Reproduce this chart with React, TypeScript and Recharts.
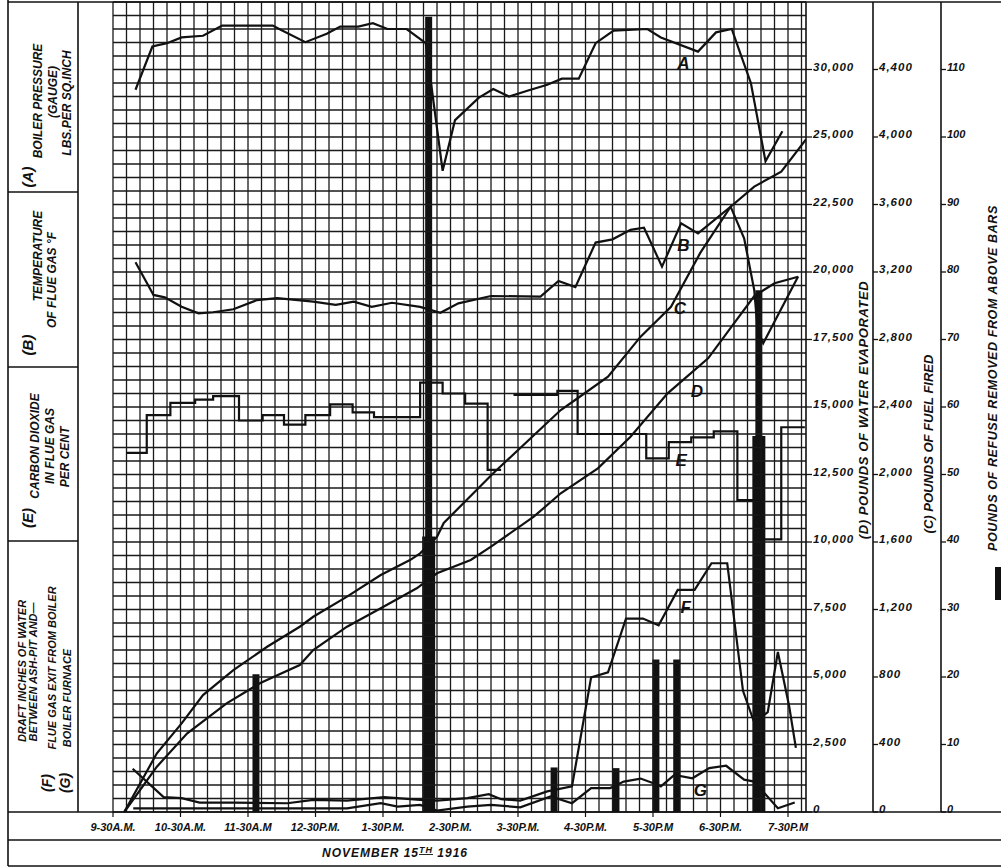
import React from 'react'
import {
  ComposedChart,
  Line,
  Bar,
  XAxis,
  YAxis,
  ReferenceDot,
  ReferenceLine,
} from 'recharts'

// all times are minutes after 9.30 a.m., 15th November 1916
const hourTicks = [0, 60, 120, 180, 240, 300, 360, 420, 480, 540, 600]
const hourLabels = [
  '9-30A.M.', '10-30A.M.', '11-30A.M', '12-30P.M.', '1-30P.M.', '2-30P.M.',
  '3-30P.M.', '4-30P.M.', '5-30P.M', '6-30P.M.', '7-30P.M',
]

// (A) boiler pressure, lbs per sq. inch
const pressureTimes = [20, 35, 48, 61, 80, 97, 142, 149, 171, 190, 202, 218, 231, 244, 261, 278, 293, 304, 325, 338, 352, 369, 386, 399, 414, 429, 445, 475, 487, 520, 536, 550, 558, 567, 580, 595]
const pressureValues = [96, 108.8, 109.8, 111.5, 112, 115, 115, 113.8, 110.1, 112.6, 114.7, 114.7, 115.7, 114, 114, 109.8, 72, 87, 93.6, 96.2, 94, 95.8, 97.5, 99.3, 99.3, 109.8, 113.5, 114, 111.5, 107.3, 113, 114, 106.4, 98, 74.8, 83.7]

// (B) temperature of flue gas, deg F
const tempTimes = [20, 36, 46, 61, 76, 89, 107, 128, 146, 178, 198, 214, 230, 248, 273, 291, 307, 336, 380, 396, 411, 429, 444, 460, 472, 488, 505, 520, 549, 561, 570, 573, 578, 609]
const tempValues = [686, 565, 556, 521, 497, 501, 512, 546, 553, 540, 528, 540, 521, 536, 521, 499, 534, 561, 559, 617, 594, 759, 771, 806, 814, 670, 830, 793, 892, 775, 583, 435, 386, 633]

// (C) pounds of fuel fired, cumulative
const fuelTimes = [10, 39, 61, 80, 107, 137, 166, 178, 208, 238, 264, 273, 288, 294, 338, 398, 413, 440, 469, 496, 522, 549, 570, 594, 616]
const fuelValues = [0, 348, 525, 693, 841, 979, 1098, 1157, 1276, 1404, 1493, 1533, 1631, 1713, 2007, 2382, 2452, 2580, 2817, 2994, 3313, 3587, 3706, 3794, 3986]

// (D) pounds of water evaporated, cumulative
const waterTimes = [10, 39, 66, 101, 131, 166, 178, 208, 238, 270, 288, 318, 336, 374, 398, 431, 460, 493, 529, 552, 570, 588, 609]
const waterValues = [0, 1678, 2915, 4026, 4778, 5444, 6000, 6863, 7544, 8285, 8841, 9333, 9826, 10937, 11804, 12730, 13900, 15507, 16804, 18100, 19111, 19581, 19826]

// (E) carbon dioxide in flue gas, per cent (each value holds until the next time)
const co2Times = [12, 30, 51, 73, 89, 112, 133, 152, 171, 193, 213, 232, 273, 293, 313, 333, 345, 350, 356, 395, 413, 474, 494, 514, 534, 555, 576, 594, 615]
const co2Values = [9.6, 12.4, 13.3, 13.55, 13.8, 12.0, 12.4, 11.7, 12.4, 13.2, 12.6, 12.25, 14.8, 14.0, 13.25, 8.35, 8.35, null, 13.9, 14.2, 11.0, 9.2, 10.4, 10.75, 11.2, 6.1, 3.2, 11.5, 11.5]

// (F) draft, ash-pit to flue gas exit from boiler, inches of water
const draftFTimes = [17.5, 45, 61, 77, 107, 155, 178, 208, 241, 273, 288, 315, 334, 345, 362, 386, 408, 425, 440, 456, 471, 485, 502, 517, 532, 546, 560, 570, 582, 591, 601, 607]
const draftFValues = [0.128, 0.044, 0.041, 0.028, 0.028, 0.026, 0.036, 0.034, 0.044, 0.036, 0.034, 0.041, 0.053, 0.038, 0.034, 0.061, 0.076, 0.399, 0.414, 0.573, 0.573, 0.553, 0.658, 0.658, 0.737, 0.737, 0.359, 0.265, 0.296, 0.474, 0.314, 0.19]

// (G) draft, ash-pit to boiler furnace
const draftGTimes = [18, 149, 208, 238, 253, 273, 288, 315, 336, 362, 389, 408, 425, 442, 454, 469, 484, 487, 499, 515, 530, 545, 561, 570, 591, 606]
const draftGValues = [0.011, 0.011, 0.011, 0.026, 0.016, 0.021, 0.004, 0.016, 0.021, 0.014, 0.046, 0.026, 0.071, 0.071, 0.09, 0.099, 0.081, 0.076, 0.11, 0.1, 0.13, 0.137, 0.096, 0.09, 0.011, 0.028]

// pounds of refuse removed from above bars
const refuseTimes = [127, 280.5, 392, 447, 482.5, 501, 574]
const refuseTall = [20.4, 117.8, 6.6, 6.5, 22.6, 22.6, 77.3]
const refuseWide = [null, 40.8, null, null, null, null, 55.7]

// axis tick values / labels
const pressureTicks = [70, 80, 90, 100, 110]
const pressureLabels = ['70', '80', '90', '100', '110']
const tempTicks = [400, 500, 600, 700, 800, 900]
const tempLabels = ['400', '500', '600', '700', '800', '900']
const co2Ticks = [4, 6, 8, 10, 12, 14]
const co2Labels = ['4·0', '6·0', '8·0', '10·0', '12·0', '14·0']
const draftTicks = [0, 0.1, 0.2, 0.3, 0.4, 0.5, 0.6, 0.7]
const draftLabels = ['·0', '·10', '·20', '·30', '·40', '·50', '·60', '·70']
const waterTicks = [0, 2500, 5000, 7500, 10000, 12500, 15000, 17500, 20000, 22500, 25000, 27500]
const waterLabels = ['0', '2,500', '5,000', '7,500', '10,000', '12,500', '15,000', '17,500', '20,000', '22,500', '25,000', '30,000']
const fuelTicks = [0, 400, 800, 1200, 1600, 2000, 2400, 2800, 3200, 3600, 4000, 4400]
const fuelLabels = ['0', '400', '800', '1,200', '1,600', '2,000', '2,400', '2,800', '3,200', '3,600', '4,000', '4,400']
const refuseTicks = [0, 10, 20, 30, 40, 50, 60, 70, 80, 90, 100, 110]
const refuseLabels = ['0', '10', '20', '30', '40', '50', '60', '70', '80', '90', '100', '110']

// squared paper: 12 minute columns, rows of 500 lbs on the water scale
const gridMinutes = Array.from({ length: 52 }, (_, i) => i * 12)
const gridWater = Array.from({ length: 61 }, (_, i) => i * 500)

const zip = (ts: number[], vs: (number | null)[]) => ts.map((m, i) => ({ m, v: vs[i] }))

const pressureData = zip(pressureTimes, pressureValues)
const tempData = zip(tempTimes, tempValues)
const fuelData = zip(fuelTimes, fuelValues)
const waterData = zip(waterTimes, waterValues)
const co2Data = zip(co2Times, co2Values)
const draftFData = zip(draftFTimes, draftFValues)
const draftGData = zip(draftGTimes, draftGValues)
const refuseData = refuseTimes.map((m, i) => ({ m, tall: refuseTall[i], wide: refuseWide[i] }))

const FONT = "'Liberation Sans', Arial, sans-serif"
const INK = '#111'
const GRID = '#1a1a1a'

const txt = {
  fontFamily: FONT,
  fontStyle: 'italic' as const,
  fontWeight: 700,
  fill: INK,
}

function tickRenderer(labels: string[], side: 'left' | 'right' | 'bottom', size = 11, spacing = 0) {
  return (props: any) => {
    const { x, y, index } = props
    const label = labels[index]
    if (side === 'bottom') {
      return (
        <text x={x} y={y + 12} textAnchor="middle" fontSize={size} {...txt}>
          {label}
        </text>
      )
    }
    return (
      <text
        x={x}
        y={y + 1}
        textAnchor={side === 'left' ? 'end' : 'start'}
        fontSize={size}
        letterSpacing={spacing}
        {...txt}
      >
        {label}
      </text>
    )
  }
}

function letter(ch: string) {
  return (props: any) => {
    const vb = props.viewBox || {}
    const cx = (vb.x ?? 0) + (vb.width ?? 0) / 2
    const cy = (vb.y ?? 0) + (vb.height ?? 0) / 2
    return (
      <text x={cx} y={cy + 6} textAnchor="middle" fontSize={17} {...txt}>
        {ch}
      </text>
    )
  }
}

function Rot({ x, y, size = 12, spacing = 0, children }: { x: number; y: number; size?: number; spacing?: number; children: React.ReactNode }) {
  return (
    <text
      transform={`translate(${x},${y}) rotate(-90)`}
      textAnchor="middle"
      dominantBaseline="central"
      fontSize={size}
      letterSpacing={spacing}
      {...txt}
    >
      {children}
    </text>
  )
}

const lineProps = {
  xAxisId: 'a_time',
  dataKey: 'v',
  stroke: INK,
  strokeWidth: 2.2,
  dot: false,
  isAnimationActive: false,
  type: 'linear' as const,
}

const leftAxis = {
  orientation: 'left' as const,
  width: 0,
  interval: 0,
  axisLine: false,
  tickSize: 8,
  tickMargin: 2,
  tickLine: { stroke: INK, strokeWidth: 1.3 },
}

const rightAxis = {
  orientation: 'right' as const,
  interval: 0,
  axisLine: { stroke: INK, strokeWidth: 1.6 },
  tickSize: 5,
  tickMargin: 1,
  tickLine: { stroke: INK, strokeWidth: 1.3 },
}

export default function App() {
  return (
    <div style={{ position: 'relative', width: 1001, height: 868, background: '#fff' }}>
      <style>{'body{margin:0;background:#fff}'}</style>
      <ComposedChart
        width={1001}
        height={868}
        data={refuseData}
        margin={{ top: 2, right: 0, bottom: 30, left: 113 }}
      >
        <XAxis
          xAxisId="a_time"
          type="number"
          dataKey="m"
          domain={[0, 616]}
          allowDataOverflow
          ticks={hourTicks}
          interval={0}
          height={26}
          axisLine={false}
          tickLine={{ stroke: INK, strokeWidth: 1.2 }}
          tickSize={5}
          tick={tickRenderer(hourLabels, 'bottom', 11)}
        />
        <XAxis xAxisId="z_tall" type="number" dataKey="m" domain={[0, 616]} allowDataOverflow hide height={0} />
        <XAxis xAxisId="z_wide" type="number" dataKey="m" domain={[0, 616]} allowDataOverflow hide height={0} />

        <YAxis yAxisId="pressure" {...leftAxis} domain={[-118, 122]} ticks={pressureTicks} tick={tickRenderer(pressureLabels, 'left')} />
        <YAxis yAxisId="temp" {...leftAxis} domain={[-1350, 1650]} ticks={tempTicks} tick={tickRenderer(tempLabels, 'left')} />
        <YAxis yAxisId="co2" {...leftAxis} domain={[-17, 43]} ticks={co2Ticks} tick={tickRenderer(co2Labels, 'left')} />
        <YAxis yAxisId="draft" {...leftAxis} domain={[0, 2.4]} ticks={draftTicks} tick={tickRenderer(draftLabels, 'left')} />

        <YAxis yAxisId="ra_water" {...rightAxis} width={67} tickSize={6} domain={[0, 30000]} ticks={waterTicks} tick={tickRenderer(waterLabels, 'right', 11.5, 1)} />
        <YAxis yAxisId="rb_fuel" {...rightAxis} width={68} domain={[0, 4800]} ticks={fuelTicks} tick={tickRenderer(fuelLabels, 'right', 11.5, 1)} />
        <YAxis yAxisId="rc_refuse" {...rightAxis} width={60} domain={[0, 120]} ticks={refuseTicks} tick={tickRenderer(refuseLabels, 'right', 11)} />

        {gridWater.map((w) => (
          <ReferenceLine key={`h${w}`} xAxisId="a_time" yAxisId="ra_water" y={w} stroke={GRID} strokeWidth={1.3} />
        ))}
        {gridMinutes.map((m) => (
          <ReferenceLine key={`v${m}`} xAxisId="a_time" yAxisId="ra_water" x={m} stroke={GRID} strokeWidth={1.3} />
        ))}

        <Bar xAxisId="z_tall" yAxisId="rc_refuse" dataKey="tall" fill={INK} barSize={7} isAnimationActive={false} />
        <Bar xAxisId="z_wide" yAxisId="rc_refuse" dataKey="wide" fill={INK} barSize={13} isAnimationActive={false} />

        <Line {...lineProps} data={pressureData} yAxisId="pressure" />
        <Line {...lineProps} data={tempData} yAxisId="temp" />
        <Line {...lineProps} data={fuelData} yAxisId="rb_fuel" />
        <Line {...lineProps} data={waterData} yAxisId="ra_water" />
        <Line {...lineProps} data={co2Data} yAxisId="co2" type="stepAfter" connectNulls={false} />
        <Line {...lineProps} data={draftFData} yAxisId="draft" />
        <Line {...lineProps} data={draftGData} yAxisId="draft" />

        <ReferenceDot xAxisId="a_time" yAxisId="pressure" x={507} y={104} r={1} fill="none" stroke="none" label={letter('A')} />
        <ReferenceDot xAxisId="a_time" yAxisId="temp" x={507} y={750} r={1} fill="none" stroke="none" label={letter('B')} />
        <ReferenceDot xAxisId="a_time" yAxisId="rb_fuel" x={504} y={2987} r={1} fill="none" stroke="none" label={letter('C')} />
        <ReferenceDot xAxisId="a_time" yAxisId="ra_water" x={519} y={15593} r={1} fill="none" stroke="none" label={letter('D')} />
        <ReferenceDot xAxisId="a_time" yAxisId="co2" x={505} y={9.07} r={1} fill="none" stroke="none" label={letter('E')} />
        <ReferenceDot xAxisId="a_time" yAxisId="draft" x={509} y={0.607} r={1} fill="none" stroke="none" label={letter('F')} />
        <ReferenceDot xAxisId="a_time" yAxisId="draft" x={522} y={0.065} r={1} fill="none" stroke="none" label={letter('G')} />
      </ComposedChart>

      <svg
        width={1001}
        height={868}
        style={{ position: 'absolute', left: 0, top: 0, pointerEvents: 'none' }}
      >
        <g stroke={INK} strokeWidth={1.6} fill="none">
          <line x1={8} y1={2} x2={1001} y2={2} />
          <line x1={8} y1={0} x2={8} y2={866} />
          <line x1={78} y1={2} x2={78} y2={812} />
          <line x1={8} y1={192} x2={78} y2={192} />
          <line x1={8} y1={367} x2={78} y2={367} />
          <line x1={8} y1={541} x2={78} y2={541} />
          <line x1={8} y1={812} x2={1001} y2={812} />
          <line x1={8} y1={840} x2={1001} y2={840} />
          <line x1={8} y1={866} x2={1001} y2={866} />
        </g>

        <Rot x={27} y={177} size={15}>(A)</Rot>
        <Rot x={38} y={101}>BOILER PRESSURE</Rot>
        <Rot x={53} y={92}>(GAUGE)</Rot>
        <Rot x={67} y={103}>LBS.PER SQ.INCH</Rot>

        <Rot x={27} y={345} size={15}>(B)</Rot>
        <Rot x={38} y={256}>TEMPERATURE</Rot>
        <Rot x={52} y={280}>OF FLUE GAS °F</Rot>

        <Rot x={27} y={518} size={15}>(E)</Rot>
        <Rot x={35} y={446}>CARBON DIOXIDE</Rot>
        <Rot x={50} y={446}>IN FLUE GAS</Rot>
        <Rot x={65} y={457}>PER CENT</Rot>

        <Rot x={22} y={671} size={11}>DRAFT INCHES OF WATER</Rot>
        <Rot x={33} y={672} size={11}>BETWEEN ASH-PIT AND—</Rot>
        <Rot x={47} y={783} size={14}>(F)</Rot>
        <Rot x={65} y={783} size={14}>(G)</Rot>
        <Rot x={52} y={668} size={11}>FLUE GAS EXIT FROM BOILER</Rot>
        <Rot x={67} y={698} size={11}>BOILER FURNACE</Rot>

        <Rot x={863} y={410} size={13} spacing={0.6}>(D) POUNDS OF WATER EVAPORATED</Rot>
        <Rot x={928} y={444} size={13}>(C) POUNDS OF FUEL FIRED</Rot>
        <rect x={995} y={567} width={8} height={33} fill={INK} />
        <Rot x={993} y={378} size={12.5} spacing={0.6}>POUNDS OF REFUSE REMOVED FROM ABOVE BARS</Rot>

        <text x={395} y={857} textAnchor="middle" fontSize={12} letterSpacing={1} {...txt}>
          NOVEMBER 15
          <tspan dy={-4} fontSize={9} textDecoration="underline">TH</tspan>
          <tspan dy={4}> 1916</tspan>
        </text>
      </svg>
    </div>
  )
}
